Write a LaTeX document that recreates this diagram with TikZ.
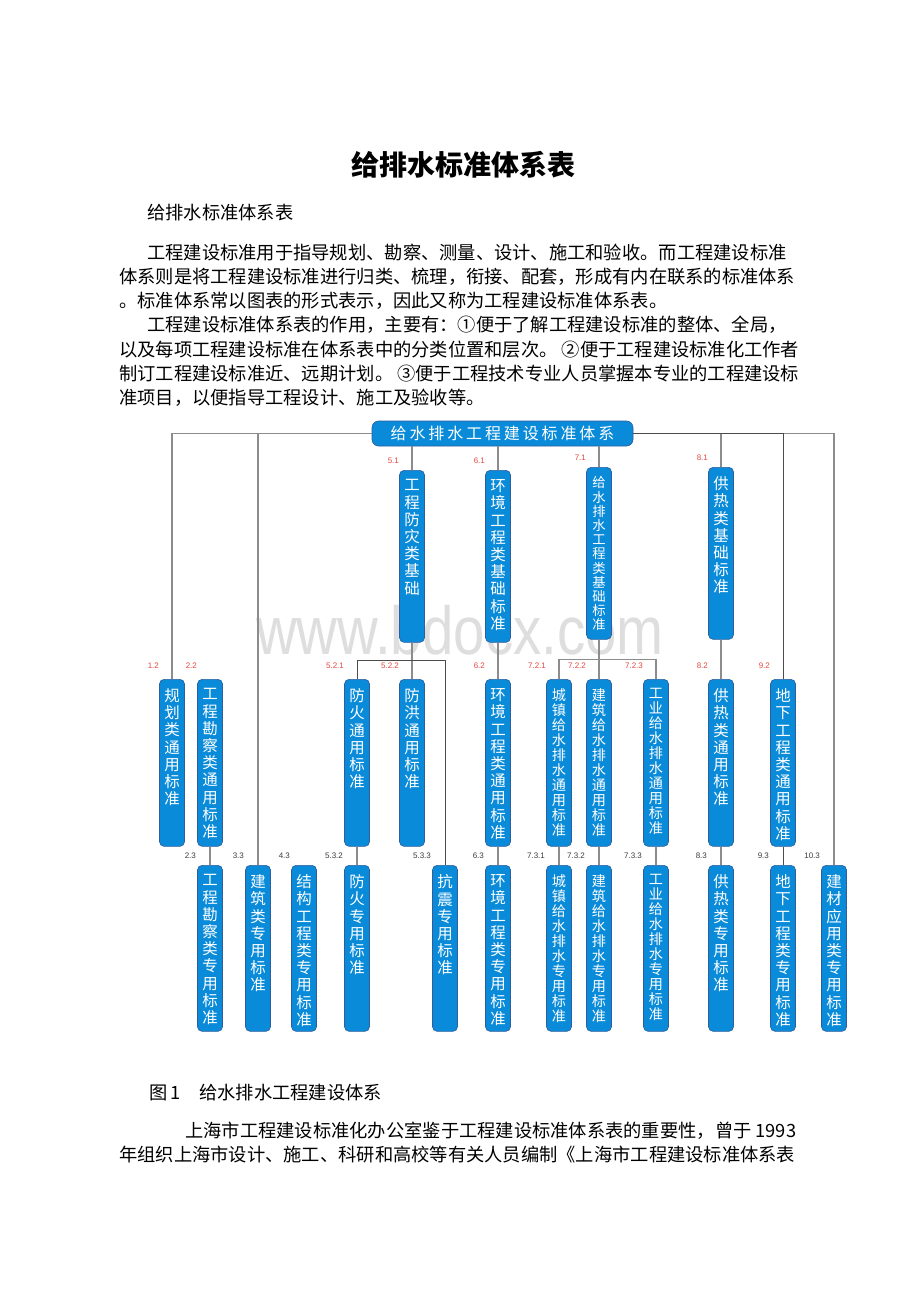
\documentclass[tikz,border=0pt]{standalone}
\usepackage{fontspec}
\setmainfont{Noto Sans CJK SC}
\newfontfamily\numfont{Liberation Sans}
\newfontfamily\rootfont[LetterSpace=18]{Noto Sans CJK SC}
\usetikzlibrary{calc}

\definecolor{boxblue}{HTML}{0A8BD9}
\definecolor{boxedge}{HTML}{2F5E9E}
\definecolor{wiregray}{HTML}{8C8C8C}
\definecolor{numred}{HTML}{E5483F}
\definecolor{numgray}{HTML}{3C3C3C}
\definecolor{wmgray}{HTML}{DEDEDE}

\newcommand\coltext[2]{\parbox[c][#1][t]{18.75pt}{\centering\vspace*{7pt}#2}}

\begin{document}
\begin{tikzpicture}[x=0.75pt,y=-0.75pt,
  body/.style={anchor=west,inner sep=0pt,font=\fontsize{13.7pt}{16pt}\selectfont},
  rootbox/.style={draw=boxedge,fill=boxblue,line width=0.5pt,rounded corners=5pt,minimum width=195.75pt,minimum height=18.75pt,inner sep=0pt,text=white,font=\rootfont\fontsize{12pt}{12pt}\selectfont},
  col/.style={draw=boxedge,fill=boxblue,line width=0.5pt,rounded corners=3.5pt,inner sep=0pt,anchor=north,text=white},
  nine/.style={font=\fontsize{11.6pt}{12.9pt}\selectfont},
  ten/.style={font=\fontsize{10.6pt}{11.25pt}\selectfont},
  eleven/.style={font=\fontsize{10pt}{10.65pt}\selectfont},
  numone/.style={draw=none,fill=none,rounded corners=0pt,font=\numfont\fontsize{6pt}{6pt}\selectfont,text=numred,inner sep=0pt,anchor=east,yshift=6.75pt},
  numtwo/.style={numone,yshift=3pt},
  numthree/.style={numone,text=numgray,yshift=0pt,xshift=-0.75pt},
  wire/.style={draw=wiregray,line width=1pt},
  darkwire/.style={draw=black!70,line width=0.6pt},
  wm/.style={text=wmgray,font=\numfont\fontsize{51pt}{51pt}\selectfont,xscale=0.83,transform shape}]

\useasboundingbox[fill=white] (0,0) rectangle (920,1302);

\node[wm] (wm) at (460,630) {www.bdocx.com};

\node[body,anchor=center,font=\bfseries\fontsize{21pt}{24pt}\selectfont] (title) at (463,165) {给排水标准体系表};
\node[body] (sub) at (147,213) {给排水标准体系表};
\node[body] (p1a) at (147,253) {工程建设标准用于指导规划、勘察、测量、设计、施工和验收。而工程建设标准};
\node[body] (p1b) at (119,277) {体系则是将工程建设标准进行归类、梳理，衔接、配套，形成有内在联系的标准体系};
\node[body] (p1c) at (119,301) {。标准体系常以图表的形式表示，因此又称为工程建设标准体系表。};
\node[body] (p2a) at (147,325) {工程建设标准体系表的作用，主要有：①便于了解工程建设标准的整体、全局，};
\node[body] (p2b) at (119,350) {以及每项工程建设标准在体系表中的分类位置和层次。 ②便于工程建设标准化工作者};
\node[body] (p2c) at (119,374) {制订工程建设标准近、远期计划。 ③便于工程技术专业人员掌握本专业的工程建设标};
\node[body] (p2d) at (119,398) {准项目，以便指导工程设计、施工及验收等。};

\node[rootbox] (root) at (502.5,433.5) {给水排水工程建设标准体系};

\node[col,nine,label={[numone]north west:5.1}] (b51) at (412,470) {\coltext{129pt}{工\\程\\防\\灾\\类\\基\\础}};
\node[col,nine,label={[numone]north west:6.1}] (b61) at (498,470) {\coltext{129pt}{环\\境\\工\\程\\类\\基\\础\\标\\准}};
\node[col,eleven,label={[numone]north west:7.1}] (b71) at (599,467) {\coltext{129pt}{给\\水\\排\\水\\工\\程\\类\\基\\础\\标\\准}};
\node[col,nine,label={[numone]north west:8.1}] (b81) at (721,467) {\coltext{129pt}{供\\热\\类\\基\\础\\标\\准}};

\node[col,nine,label={[numtwo]north west:1.2}] (b12) at (172,679) {\coltext{125.25pt}{规\\划\\类\\通\\用\\标\\准}};
\node[col,nine,label={[numtwo]north west:2.2}] (b22) at (210,679) {\coltext{125.25pt}{工\\程\\勘\\察\\类\\通\\用\\标\\准}};
\node[col,nine,label={[numtwo]north west:5.2.1}] (b521) at (357,679) {\coltext{125.25pt}{防\\火\\通\\用\\标\\准}};
\node[col,nine,label={[numtwo]north west:5.2.2}] (b522) at (412,679) {\coltext{125.25pt}{防\\洪\\通\\用\\标\\准}};
\node[col,nine,label={[numtwo]north west:6.2}] (b62) at (498,679) {\coltext{125.25pt}{环\\境\\工\\程\\类\\通\\用\\标\\准}};
\node[col,ten,label={[numtwo]north west:7.2.1}] (b721) at (559,679) {\coltext{125.25pt}{城\\镇\\给\\水\\排\\水\\通\\用\\标\\准}};
\node[col,ten,label={[numtwo]north west:7.2.2}] (b722) at (599,679) {\coltext{125.25pt}{建\\筑\\给\\水\\排\\水\\通\\用\\标\\准}};
\node[col,ten,label={[numtwo]north west:7.2.3}] (b723) at (656,679) {\coltext{125.25pt}{工\\业\\给\\水\\排\\水\\通\\用\\标\\准}};
\node[col,nine,label={[numtwo]north west:8.2}] (b82) at (721,679) {\coltext{125.25pt}{供\\热\\类\\通\\用\\标\\准}};
\node[col,nine,label={[numtwo]north west:9.2}] (b92) at (783,679) {\coltext{125.25pt}{地\\下\\工\\程\\类\\通\\用\\标\\准}};

\node[col,nine,label={[numthree]north west:2.3}] (b23) at (210,865) {\coltext{124.5pt}{工\\程\\勘\\察\\类\\专\\用\\标\\准}};
\node[col,nine,label={[numthree]north west:3.3}] (b33) at (258,865) {\coltext{124.5pt}{建\\筑\\类\\专\\用\\标\\准}};
\node[col,nine,label={[numthree]north west:4.3}] (b43) at (304,865) {\coltext{124.5pt}{结\\构\\工\\程\\类\\专\\用\\标\\准}};
\node[col,nine,label={[numthree]north west:5.3.2}] (b532) at (357,865) {\coltext{124.5pt}{防\\火\\专\\用\\标\\准}};
\node[col,nine,label={[numthree]north west:5.3.3}] (b533) at (445,865) {\coltext{124.5pt}{抗\\震\\专\\用\\标\\准}};
\node[col,nine,label={[numthree]north west:6.3}] (b63) at (498,865) {\coltext{124.5pt}{环\\境\\工\\程\\类\\专\\用\\标\\准}};
\node[col,ten,label={[numthree]north west:7.3.1}] (b731) at (559,865) {\coltext{124.5pt}{城\\镇\\给\\水\\排\\水\\专\\用\\标\\准}};
\node[col,ten,label={[numthree]north west:7.3.2}] (b732) at (599,865) {\coltext{124.5pt}{建\\筑\\给\\水\\排\\水\\专\\用\\标\\准}};
\node[col,ten,label={[numthree]north west:7.3.3}] (b733) at (656,865) {\coltext{124.5pt}{工\\业\\给\\水\\排\\水\\专\\用\\标\\准}};
\node[col,nine,label={[numthree]north west:8.3}] (b83) at (721,865) {\coltext{124.5pt}{供\\热\\类\\专\\用\\标\\准}};
\node[col,nine,label={[numthree]north west:9.3}] (b93) at (783,865) {\coltext{124.5pt}{地\\下\\工\\程\\类\\专\\用\\标\\准}};
\node[col,nine,label={[numthree]north west:10.3}] (b103) at (834,865) {\coltext{124.5pt}{建\\材\\应\\用\\类\\专\\用\\标\\准}};

\draw[wire] (root.west) -| (b12.north);
\draw[wire] (root.east) -| (b103.north);
\draw[wire] (b33.north) |- (root.west);
\draw[wire] (b81.north) |- (root.east);
\draw[darkwire] (b92.north) |- (root.east);
\draw[wire] (root.south -| b51.north) -- (b51.north);
\draw[wire] (root.south -| b61.north) -- (b61.north);
\draw[wire] (root.south -| b71.north) -- (b71.north);

\draw[wire] (b22.south) -- (b23.north);
\draw[wire] (b51.south) -- (b522.north);
\draw[darkwire] (b521.north) |- ($(b51.south)!.5!(b522.north)$) -| (b533.north);
\draw[wire] (b521.south) -- (b532.north);
\draw[wire] (b61.south) -- (b62.north);
\draw[wire] (b62.south) -- (b63.north);
\draw[wire] (b71.south) -- (b722.north);
\draw[wire] (b721.north) |- ($(b71.south)!.5!(b722.north)$) -| (b723.north);
\draw[wire] (b721.south) -- (b731.north);
\draw[wire] (b722.south) -- (b732.north);
\draw[wire] (b723.south) -- (b733.north);
\draw[wire] (b81.south) -- (b82.north);
\draw[wire] (b82.south) -- (b83.north);
\draw[darkwire] (b92.south) -- (b93.north);

\node[body] (cap) at (149,1093) {图\,1\hspace{14pt}给水排水工程建设体系};
\node[body] (p3a) at (185,1131) {上海市工程建设标准化办公室鉴于工程建设标准体系表的重要性，曾于 1993};
\node[body] (p3b) at (119,1155) {年组织上海市设计、施工、科研和高校等有关人员编制《上海市工程建设标准体系表};
\end{tikzpicture}
\end{document}
